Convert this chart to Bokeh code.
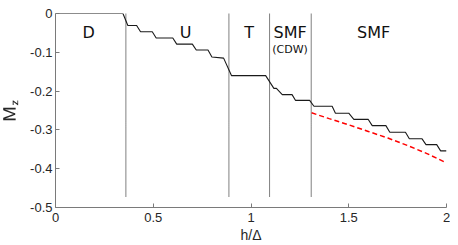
from bokeh.plotting import figure
from bokeh.models import Range1d, FixedTicker
from bokeh.core.properties import value
from bokeh.embed import file_html
from bokeh.resources import INLINE

# staircase magnetization M_z vs h/Delta
h = [0, 0.345, 0.37, 0.415, 0.435, 0.495, 0.515, 0.60, 0.62, 0.70, 0.72, 0.78, 0.80,
     0.86, 0.90, 1.075, 1.117, 1.13, 1.16, 1.21, 1.228, 1.30, 1.322, 1.415, 1.432,
     1.50, 1.526, 1.60, 1.62, 1.69, 1.71, 1.79, 1.81, 1.875, 1.895, 1.95, 1.97, 2.0]
mz = [0, 0, -0.031, -0.031, -0.047, -0.047, -0.063, -0.063, -0.079, -0.079, -0.094, -0.094, -0.112,
      -0.115, -0.160, -0.160, -0.193, -0.193, -0.209, -0.209, -0.224, -0.224, -0.239, -0.239, -0.257,
      -0.257, -0.273, -0.273, -0.289, -0.289, -0.306, -0.306, -0.323, -0.323, -0.338, -0.338, -0.354, -0.354]

# red dashed curve
h_fit = [1.31, 1.4, 1.5, 1.6, 1.7, 1.8, 1.9, 2.0]
mz_fit = [-0.256, -0.271, -0.287, -0.304, -0.321, -0.340, -0.361, -0.385]

# phase boundaries
boundaries = [0.36, 0.887, 1.095, 1.308]
boundary_bottom = -0.473

# region labels
region_h = [0.17, 0.665, 0.99, 1.2, 1.627]
region_mz = [-0.049, -0.049, -0.049, -0.049, -0.049]
region_text = ["D", "U", "T", "SMF", "SMF"]
sub_h = [1.2]
sub_mz = [-0.094]
sub_text = ["(CDW)"]

x_ticks = [0, 0.5, 1, 1.5, 2]
x_tick_labels = ["0", "0.5", "1", "1.5", "2"]
y_ticks = [-0.5, -0.4, -0.3, -0.2, -0.1, 0]
y_tick_labels = ["-0.5", "-0.4", "-0.3", "-0.2", "-0.1", "0"]
x_label = "h/Δ"
y_label = r"$$\mathsf{M_z}$$"

p = figure(width=450, height=245, output_backend="svg", toolbar_location=None,
           x_range=Range1d(0, 2), y_range=Range1d(-0.5, 0),
           min_border_left=55, min_border_right=4, min_border_top=13, min_border_bottom=37)
p.outline_line_color = None
p.xgrid.visible = False
p.ygrid.visible = False
p.background_fill_color = "white"
p.border_fill_color = "white"

for ax, ticks, labels in ((p.xaxis[0], x_ticks, x_tick_labels), (p.yaxis[0], y_ticks, y_tick_labels)):
    ax.ticker = FixedTicker(ticks=ticks)
    ax.major_label_overrides = {t: l for t, l in zip(ticks, labels)}
    ax.major_tick_in = 4
    ax.major_tick_out = 0
    ax.minor_tick_line_color = None
    ax.axis_line_color = "#7a7a7a"
    ax.major_tick_line_color = "#7a7a7a"
    ax.major_label_text_color = "#262626"
    ax.major_label_text_font = "Liberation Sans"
    ax.major_label_text_font_size = "13px"
    ax.axis_label_text_color = "#262626"
    ax.axis_label_text_font = "Liberation Sans"
    ax.axis_label_text_font_style = "normal"
    ax.axis_label_text_font_size = "14px"
p.xaxis.major_label_standoff = 5
p.yaxis.major_label_standoff = 3
p.xaxis.axis_label = x_label
p.xaxis.axis_label_standoff = 2
p.yaxis.axis_label = y_label
p.yaxis.axis_label_standoff = 8

for b in boundaries:
    p.line([b, b], [0, boundary_bottom], line_color="#000000", line_width=1, line_dash="1 1")

p.line(h_fit, mz_fit, line_color="#ff0000", line_width=1.5, line_dash="5 3")
p.line(h, mz, line_color="#1a1a1a", line_width=1.1)

p.text(region_h, region_mz, text=region_text, text_font=value("DejaVu Sans"),
       text_font_size="16px", text_align="center", text_baseline="middle", text_color="#111111")
p.text(sub_h, sub_mz, text=sub_text, text_font=value("DejaVu Sans"),
       text_font_size="11px", text_align="center", text_baseline="middle", text_color="#111111")

open("out.html", "w").write(file_html(p, INLINE))
